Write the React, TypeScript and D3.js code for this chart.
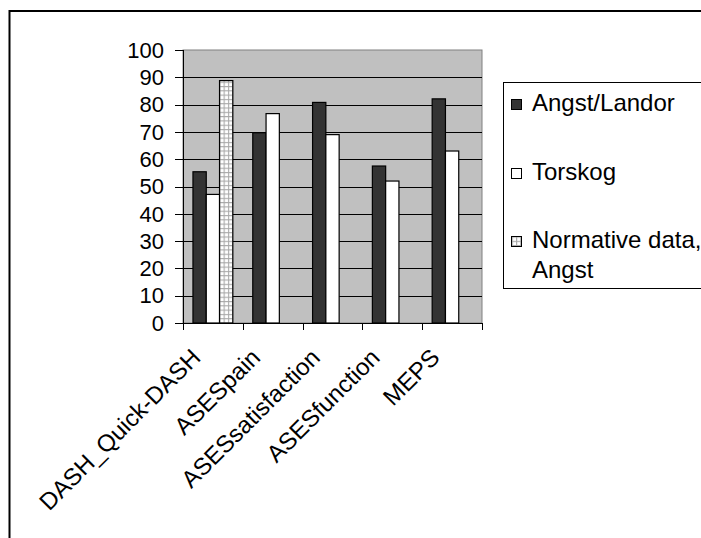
import React from "react";
import * as d3 from "d3";

const categories = ["DASH_Quick-DASH", "ASESpain", "ASESsatisfaction", "ASESfunction", "MEPS"];
const seriesNames = ["Angst/Landor", "Torskog", "Normative data, Angst"];
const angstLandor = [55.4, 69.7, 80.8, 57.5, 82.1];
const torskog = [47.1, 76.7, 69.0, 52.0, 63.0];
const normative: (number | null)[] = [88.8, null, null, null, null];
const yTicks = [0, 10, 20, 30, 40, 50, 60, 70, 80, 90, 100];

const W = 701;
const H = 538;
const plot = { left: 183, right: 482, top: 50, bottom: 323 };
const FONT = "Liberation Sans, Arial, sans-serif";

export default function App() {
  const x = d3.scaleBand<string>().domain(categories).range([plot.left, plot.right]).paddingInner(0).paddingOuter(0);
  const y = d3.scaleLinear().domain([0, 100]).range([plot.bottom, plot.top]);
  const bw = x.bandwidth();
  const barW = bw / 4.5;
  const groupOff = (bw - barW * 3) / 2;

  const series = [
    { name: seriesNames[0], values: angstLandor as (number | null)[], fill: "#333333" },
    { name: seriesNames[1], values: torskog as (number | null)[], fill: "#ffffff" },
    { name: seriesNames[2], values: normative, fill: "url(#grid)" },
  ];

  // legend baselines
  const legendBase = [111, 180, 248];

  return (
    <svg width={W} height={H} style={{ position: "absolute", left: 0, top: 0, background: "#fff" }} fontFamily={FONT}>
      <defs>
        <pattern id="grid" width={4.3} height={4.3} patternUnits="userSpaceOnUse">
          <rect width={4.3} height={4.3} fill="#ffffff" />
          <path d="M0,0.5H4.3M0.5,0V4.3" stroke="#a8a8a8" strokeWidth={1.2} />
        </pattern>
      </defs>
      {/* outer chart frame */}
      <rect x={9.5} y={11} width={W + 20} height={H + 20} fill="#fff" stroke="#000" strokeWidth={2} />

      {/* plot area */}
      <rect x={plot.left} y={plot.top} width={plot.right - plot.left} height={plot.bottom - plot.top} fill="#c0c0c0" stroke="#808080" strokeWidth={1} />
      {yTicks.filter((t) => t > 0 && t < 100).map((t) => (
        <line key={t} x1={plot.left} x2={plot.right} y1={Math.round(y(t)) + 0.5} y2={Math.round(y(t)) + 0.5} stroke="#000" strokeWidth={1} />
      ))}

      {/* bars */}
      {series.map((s, si) =>
        s.values.map((v, ci) =>
          v == null ? null : (
            <rect
              key={`${si}-${ci}`}
              x={(x(categories[ci]) as number) + groupOff + si * barW}
              y={y(v)}
              width={barW}
              height={plot.bottom - y(v)}
              fill={s.fill}
              stroke="#000"
              strokeWidth={1.2}
            />
          )
        )
      )}

      {/* y axis */}
      <line x1={plot.left + 0.5} x2={plot.left + 0.5} y1={plot.top} y2={plot.bottom} stroke="#000" />
      {yTicks.map((t) => (
        <g key={t}>
          <line x1={plot.left - 8} x2={plot.left} y1={Math.round(y(t)) + 0.5} y2={Math.round(y(t)) + 0.5} stroke="#000" />
          <text x={164} y={y(t)} dy="0.35em" textAnchor="end" fontSize={22} fill="#000">
            {t}
          </text>
        </g>
      ))}

      {/* x axis */}
      <line x1={plot.left} x2={plot.right} y1={plot.bottom + 0.5} y2={plot.bottom + 0.5} stroke="#000" />
      {[...categories.map((c) => x(c) as number), plot.right].map((px, i) => (
        <line key={i} x1={Math.round(px) + 0.5} x2={Math.round(px) + 0.5} y1={plot.bottom} y2={plot.bottom + 7} stroke="#000" />
      ))}
      {categories.map((c) => {
        const ex = (x(c) as number) + bw / 2 - 11;
        const ey = plot.bottom + 36;
        return (
          <text key={c} transform={`translate(${ex},${ey}) rotate(-45)`} textAnchor="end" fontSize={24} fill="#000">
            {c}
          </text>
        );
      })}

      {/* legend */}
      <rect x={503.5} y={82.5} width={250} height={206} fill="#fff" stroke="#000" strokeWidth={1} />
      {series.map((s, i) => (
        <g key={s.name}>
          <rect x={511.5} y={legendBase[i] - 11.5} width={10} height={10} fill={s.fill} stroke="#000" strokeWidth={1} />
          {i < 2 ? (
            <text x={532} y={legendBase[i]} fontSize={24} fill="#000">
              {s.name}
            </text>
          ) : (
            <text x={532} y={legendBase[i]} fontSize={24} fill="#000">
              <tspan>Normative data,</tspan>
              <tspan x={532} dy={30}>Angst</tspan>
            </text>
          )}
        </g>
      ))}
    </svg>
  );
}
